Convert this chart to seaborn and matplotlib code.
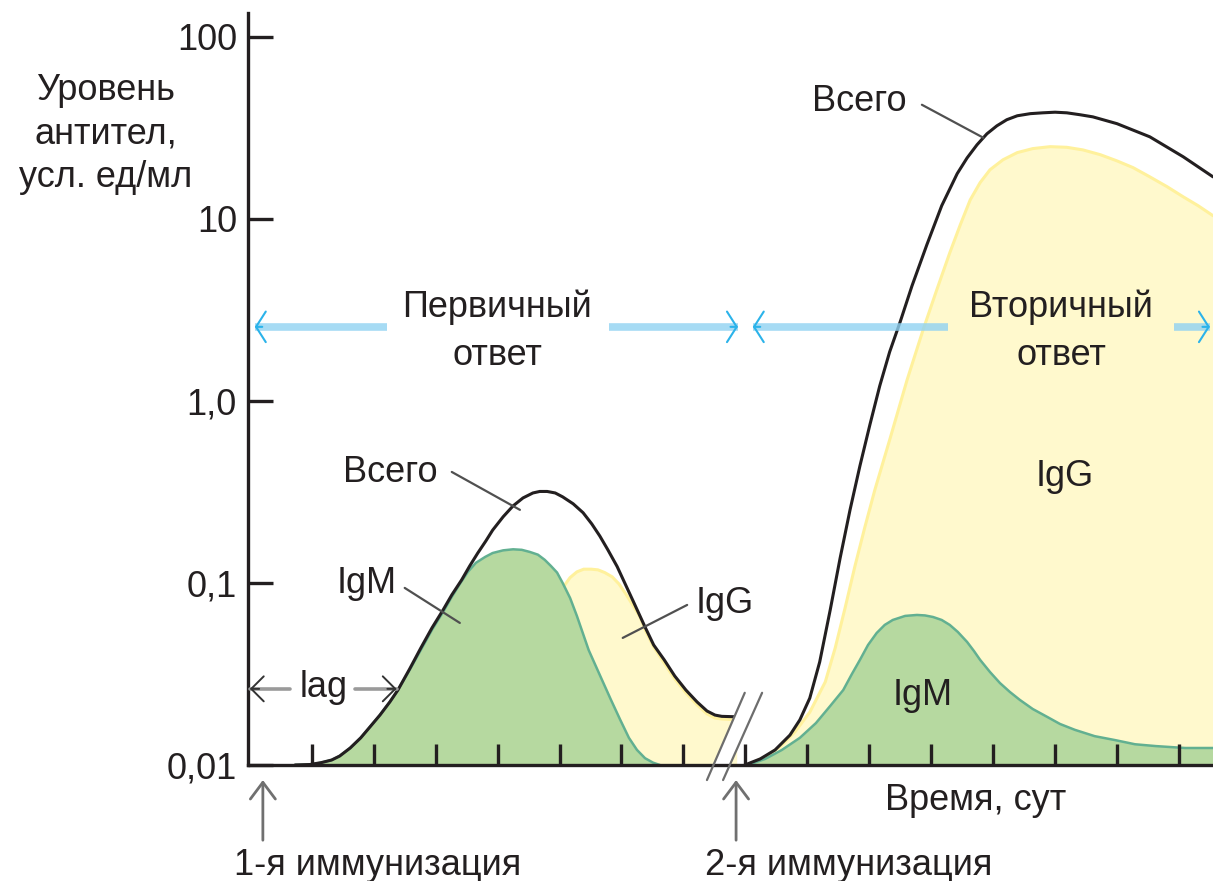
import matplotlib
matplotlib.use("Agg")
import matplotlib.pyplot as plt
import matplotlib.transforms as mtransforms
from matplotlib.patches import Polygon
from matplotlib.ticker import NullLocator
import seaborn as sns

# Значения: день, уровень антител (усл. ед/мл)
prim_days_total = [0.73, 0.97, 1.15, 1.32, 1.45, 1.62, 1.79, 1.94, 2.10, 2.26, 2.39, 2.58, 2.76,
                   2.94, 3.12, 3.26, 3.42, 3.55, 3.68, 3.81, 3.92, 4.09, 4.25, 4.41, 4.57, 4.68,
                   4.80, 4.93, 5.05, 5.22, 5.38, 5.52, 5.65, 5.78, 5.93, 6.06, 6.18, 6.38, 6.52,
                   6.69, 6.86, 7.04, 7.22, 7.38, 7.51, 7.62, 7.86]
prim_total = [0.0100, 0.01006, 0.0103, 0.01065, 0.0112, 0.0124, 0.0141, 0.0162, 0.0188, 0.0222,
              0.0258, 0.0337, 0.0439, 0.0566, 0.0711, 0.0859, 0.104, 0.124, 0.146, 0.170, 0.195,
              0.231, 0.265, 0.293, 0.312, 0.318, 0.318, 0.312, 0.297, 0.272, 0.243, 0.211, 0.181,
              0.152, 0.123, 0.0987, 0.0806, 0.0573, 0.0456, 0.0378, 0.0308, 0.0258, 0.0222,
              0.0198, 0.0188, 0.0185, 0.0184]

prim_days_igm = [0.73, 0.97, 1.15, 1.32, 1.45, 1.62, 1.79, 1.94, 2.10, 2.26, 2.39, 2.58, 2.76,
                 2.94, 3.12, 3.26, 3.39, 3.52, 3.65, 3.80, 3.92, 4.09, 4.25, 4.39, 4.52, 4.65,
                 4.76, 4.86, 4.96, 5.05, 5.17, 5.28, 5.38, 5.47, 5.57, 5.70, 5.83, 5.98, 6.12,
                 6.25, 6.38, 6.51, 6.62]
prim_igm = [0.0100, 0.01006, 0.0103, 0.01065, 0.0112, 0.0124, 0.0141, 0.0162, 0.0188, 0.0222,
            0.0258, 0.0333, 0.0428, 0.0552, 0.0693, 0.0838, 0.0987, 0.115, 0.129, 0.139, 0.146,
            0.151, 0.153, 0.152, 0.148, 0.143, 0.134, 0.124, 0.114, 0.100, 0.0827, 0.0659,
            0.0525, 0.0428, 0.0359, 0.0286, 0.0228, 0.0177, 0.0141, 0.0121, 0.0109, 0.0103, 0.0100]

prim_days_igg = [3.71, 3.96, 4.20, 4.44, 4.68, 4.88, 5.05, 5.17, 5.28, 5.39, 5.51, 5.62, 5.73,
                 5.85, 5.96, 6.07, 6.18, 6.30, 6.39, 6.52, 6.69, 6.86, 7.04, 7.22, 7.38, 7.51,
                 7.62, 7.86]
prim_igg = [0.0100, 0.0124, 0.0166, 0.0243, 0.0402, 0.0642, 0.0939, 0.107, 0.115, 0.119, 0.119,
            0.118, 0.114, 0.108, 0.0987, 0.0870, 0.0757, 0.0650, 0.0545, 0.0445, 0.0363, 0.0297,
            0.0249, 0.0214, 0.0191, 0.0181, 0.0179, 0.0177]

sec_days_total = [7.99, 8.24, 8.48, 8.72, 8.88, 9.04, 9.20, 9.37, 9.53, 9.69, 9.85, 10.01, 10.17,
                  10.33, 10.50, 10.69, 10.93, 11.17, 11.42, 11.58, 11.74, 11.90, 12.06, 12.22,
                  12.39, 12.60, 12.80, 13.00, 13.19, 13.40, 13.61, 14.00, 14.53, 15.07, 15.55]
sec_total = [0.0100, 0.0108, 0.0121, 0.0146, 0.0177, 0.0233, 0.0368, 0.0711, 0.137, 0.252, 0.440,
             0.738, 1.21, 1.86, 2.72, 4.28, 7.20, 11.8, 17.7, 21.6, 25.5, 29.3, 32.4, 35.0, 36.8,
             37.8, 38.2, 38.5, 38.2, 37.3, 36.3, 33.3, 28.2, 21.9, 17.0]

sec_days_igg = [8.04, 8.32, 8.56, 8.80, 9.04, 9.29, 9.45, 9.61, 9.77, 9.93, 10.09, 10.33, 10.61,
                10.87, 11.09, 11.30, 11.47, 11.63, 11.79, 11.95, 12.16, 12.39, 12.64, 12.92,
                13.19, 13.45, 13.73, 14.00, 14.26, 14.53, 14.81, 15.07, 15.31, 15.55]
sec_igg = [0.0100, 0.0111, 0.0126, 0.0152, 0.0195, 0.0286, 0.0439, 0.0729, 0.124, 0.203, 0.324,
           0.611, 1.30, 2.46, 4.07, 6.50, 9.27, 12.7, 15.8, 18.6, 21.1, 23.1, 24.3, 24.9, 24.7,
           23.9, 22.5, 20.8, 19.1, 17.0, 15.0, 13.2, 11.8, 10.4]

sec_days_igm = [8.04, 8.32, 8.59, 8.88, 9.14, 9.37, 9.58, 9.72, 9.85, 9.98, 10.12, 10.25, 10.38,
                10.58, 10.77, 10.90, 11.03, 11.17, 11.30, 11.43, 11.58, 11.69, 11.79, 11.95,
                12.11, 12.27, 12.43, 12.64, 12.87, 13.08, 13.32, 13.64, 13.97, 14.29, 14.63,
                15.10, 15.55]
sec_igm = [0.0100, 0.0108, 0.0121, 0.0141, 0.0170, 0.0211, 0.0258, 0.0316, 0.0378, 0.0456,
           0.0531, 0.0588, 0.0626, 0.0659, 0.0667, 0.0663, 0.0650, 0.0626, 0.0588, 0.0538,
           0.0474, 0.0423, 0.0378, 0.0324, 0.0282, 0.0252, 0.0228, 0.0203, 0.0184, 0.0168,
           0.0156, 0.0144, 0.0137, 0.0130, 0.0127, 0.0124, 0.0124]

y_ticks = [0.01, 0.1, 1, 10, 100]
y_tick_labels = ["0,01", "0,1", "1,0", "10", "100"]
x_ticks = list(range(1, 16))

immunization_days = [0.21, 7.85]
break_day = 7.85
phase_level = 2.55
primary_span = (0.08, 7.88, 2.21, 5.80)     # начало, конец, разрыв под подпись
secondary_span = (8.12, 15.50, 11.27, 14.92)
lag_level = 0.0262

INK = "#231f20"
GREEN_FILL = "#b6d9a0"
GREEN_EDGE = "#62b091"
YELLOW_FILL = "#fff9cd"
YELLOW_EDGE = "#fff19c"
BLUE_SHAFT = "#90d2f2"
BLUE_HEAD = "#2bb3ea"
POINTER = "#505050"
FS = 26

sns.set_theme(style="white")
plt.rcParams["font.family"] = ["Liberation Sans", "DejaVu Sans"]
plt.rcParams["text.color"] = INK

fig = plt.figure(figsize=(12.13, 8.81), dpi=100)
ax = fig.add_axes([248 / 1213, 116 / 881, 965 / 1213, 752 / 881])
ax.set_yscale("log")


def draw_phase(days_igg, igg, days_igm, igm, days_total, total):
    ax.fill_between(days_igg, 0.01, igg, color=YELLOW_FILL, lw=0, zorder=1)
    sns.lineplot(x=days_igg, y=igg, ax=ax, color=YELLOW_EDGE, linewidth=2.2,
                 estimator=None, sort=False, zorder=1.1)
    ax.fill_between(days_igm, 0.01, igm, color=GREEN_FILL, lw=0, zorder=1.2)
    sns.lineplot(x=days_igm, y=igm, ax=ax, color=GREEN_EDGE, linewidth=1.8,
                 estimator=None, sort=False, zorder=1.3)
    sns.lineplot(x=days_total, y=total, ax=ax, color=INK, linewidth=2.2,
                 estimator=None, sort=False, zorder=2)


draw_phase(prim_days_igg, prim_igg, prim_days_igm, prim_igm, prim_days_total, prim_total)
draw_phase(sec_days_igg, sec_igg, sec_days_igm, sec_igm, sec_days_total, sec_total)

ax.set_xlim(-0.03, 15.55)
ax.set_ylim(0.01, 135)
ax.set_xlabel("")
ax.set_ylabel("")

# оси
for side in ["top", "right"]:
    ax.spines[side].set_visible(False)
for side in ["left", "bottom"]:
    ax.spines[side].set_linewidth(2.4)
    ax.spines[side].set_color(INK)
ax.set_xticks(x_ticks)
ax.set_yticks(y_ticks, labels=y_tick_labels)
ax.yaxis.set_minor_locator(NullLocator())
ax.tick_params(axis="both", direction="in", color=INK, width=2.4, bottom=True, left=True)
ax.tick_params(axis="x", length=15, labelbottom=False)
ax.tick_params(axis="y", length=18, labelsize=FS, pad=8, labelcolor=INK)
ax.set_axisbelow(False)

# разрыв оси
blend = mtransforms.blended_transform_factory(ax.transData, ax.transAxes)
b = break_day
ax.add_patch(Polygon([(b - 0.47, -0.02), (b + 0.14, 0.096), (b + 0.42, 0.096), (b - 0.21, -0.02)],
                     closed=True, facecolor="white", edgecolor="none", transform=blend,
                     zorder=2.3, clip_on=False))
for x0, x1 in [(b - 0.47, b + 0.14), (b - 0.21, b + 0.42)]:
    ax.plot([x0, x1], [-0.02, 0.096], color="#6d6d6d", lw=1.6, transform=blend,
            clip_on=False, zorder=3)


def arrow_head(tip, back, y, color, lw, hl, hw, scale=20):
    ax.annotate("", xy=(tip, y), xytext=(back, y),
                arrowprops=dict(arrowstyle=f"->,head_length={hl},head_width={hw}", color=color,
                                lw=lw, shrinkA=0, shrinkB=0, mutation_scale=scale),
                annotation_clip=False, zorder=2.8)


# фазы ответа
for start, end, gap0, gap1 in [primary_span, secondary_span]:
    for a, c in [(start, gap0), (gap1, end)]:
        ax.plot([a, c], [phase_level, phase_level], color=BLUE_SHAFT, lw=5.5, alpha=0.8,
                solid_capstyle="butt", zorder=2.6)
    arrow_head(start, start + 0.12, phase_level, BLUE_HEAD, 1.5, 0.35, 0.55)
    arrow_head(end, end - 0.12, phase_level, BLUE_HEAD, 1.5, 0.35, 0.55)

ax.text(3.99, 2.894, "Первичный", ha="center", va="baseline", fontsize=FS)
ax.text(3.99, 1.577, "ответ", ha="center", va="baseline", fontsize=FS)
ax.text(13.10, 2.894, "Вторичный", ha="center", va="baseline", fontsize=FS)
ax.text(13.10, 1.577, "ответ", ha="center", va="baseline", fontsize=FS)

# lag
for tail, tip in [(0.65, 0.0), (1.70, 2.37)]:
    ax.plot([tail, tip], [lag_level, lag_level], color="#9a9a9a", lw=2.6, zorder=2.6)
    arrow_head(tip, tip + (0.15 if tip < tail else -0.15), lag_level, "#333333", 1.4, 0.45, 0.45)
ax.text(0.81, 0.02366, "lag", ha="left", va="baseline", fontsize=FS)

# подписи кривых с выносками
labels = [
    ("Всего", 1.50, 0.359, (3.26, 0.407), (4.36, 0.252)),
    ("IgM", 1.40, 0.0881, (2.50, 0.0939), (3.39, 0.0603)),
    ("IgG", 7.19, 0.0684, (7.06, 0.0757), (6.02, 0.0499)),
    ("Всего", 9.07, 39.2, (10.85, 42.3), (11.84, 27.9)),
]
for text, tx, ty, p0, p1 in labels:
    ax.text(tx, ty, text, ha="left", va="baseline", fontsize=FS, zorder=4)
    ax.plot([p0[0], p1[0]], [p0[1], p1[1]], color=POINTER, lw=1.6, zorder=2.7)
ax.text(13.16, 0.34, "IgG", ha="center", va="baseline", fontsize=FS)
ax.text(10.38, 0.0214, "IgM", ha="left", va="baseline", fontsize=FS, zorder=4)

# иммунизации
for day in immunization_days:
    ax.annotate("", xy=(day, -0.02), xycoords=("data", "axes fraction"),
                xytext=(day, -0.10), textcoords=("data", "axes fraction"),
                arrowprops=dict(arrowstyle="->,head_length=0.6,head_width=0.45", color="#707070",
                                lw=2, shrinkA=0, shrinkB=0, mutation_scale=20),
                annotation_clip=False)

fig.text(976 / 1213, 71 / 881, "Время, сут", ha="center", va="baseline", fontsize=FS)
fig.text(378 / 1213, 6 / 881, "1-я иммунизация", ha="center", va="baseline", fontsize=FS)
fig.text(849 / 1213, 6 / 881, "2-я иммунизация", ha="center", va="baseline", fontsize=FS)
for line, base in [("Уровень", 781), ("антител,", 738), ("усл. ед/мл", 694)]:
    fig.text(106 / 1213, base / 881, line, ha="center", va="baseline", fontsize=FS)

fig.savefig("out.png", dpi=100)
